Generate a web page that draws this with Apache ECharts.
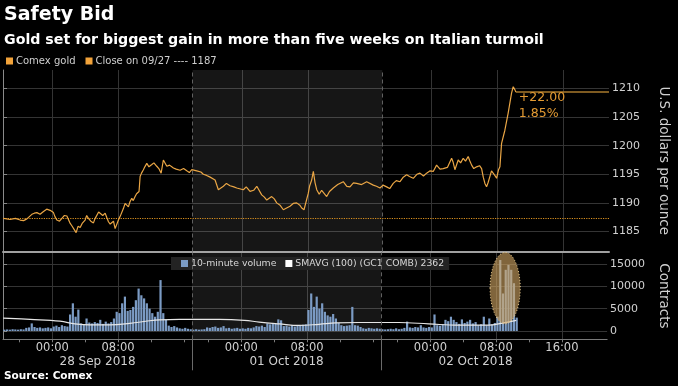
<!DOCTYPE html>
<html>
<head>
<meta charset="utf-8">
<script src="https://cdn.jsdelivr.net/npm/echarts@6/dist/echarts.min.js"></script>
<style>
html,body{margin:0;padding:0;background:#000;}
#chart{width:678px;height:386px;}
</style>
</head>
<body>
<div id="chart"></div>
<script>
// ---- Data (x positions are trading hours since 27 Sep 18:00, weekend removed) ----
const titleText = 'Safety Bid';
const subtitleText = 'Gold set for biggest gain in more than five weeks on Italian turmoil';
const sourceText = 'Source: Comex';

const priceHours = [0.06,0.87,1.5,2.08,2.5,2.90,3.2,3.50,3.8,4.11,4.5,4.91,5.3,5.72,6.12,6.3,6.53,6.85,7.14,7.45,7.75,8.15,8.35,8.55,8.7,8.87,9.1,9.36,9.6,9.96,10.15,10.36,10.65,10.97,11.15,11.38,11.6,11.78,12.1,12.39,12.6,12.79,13.0,13.20,13.4,13.60,13.8,14.00,14.2,14.41,14.6,14.81,15.0,15.21,15.4,15.62,15.8,16.02,16.2,16.42,16.5,16.63,16.8,17.03,17.2,17.44,17.7,18.05,18.3,18.65,18.9,19.18,19.45,19.87,20.2,20.67,21.0,21.48,21.9,22.29,22.6,22.90,23.50,24.0,24.30,24.7,25.12,25.72,26.12,26.73,27.1,27.54,28.0,28.35,29.15,29.5,29.96,30.4,30.78,31.38,31.7,31.99,32.59,32.9,33.20,33.6,34.00,34.4,34.81,35.2,35.62,36.0,36.23,36.51,37.03,37.2,37.44,37.64,37.85,38.05,38.35,38.65,39.26,39.6,40.06,40.6,41.27,41.7,42.08,42.5,42.90,43.5,44.11,44.91,45.3,45.72,46.1,46.53,46.9,47.33,47.7,48.15,48.55,48.96,49.3,49.76,50.2,50.57,51.0,51.38,51.8,52.18,52.59,53.0,53.39,53.9,54.41,54.6,54.81,55.0,55.21,55.5,55.82,56.1,56.42,56.6,56.84,57.1,57.44,57.8,58.05,58.25,58.45,58.65,58.85,59.05,59.25,59.45,59.65,59.87,60.1,60.27,60.47,60.87,61.27,61.68,61.88,62.08,62.20];
const priceValues = [1187.3,1187.1,1187.3,1187.0,1186.9,1187.2,1187.6,1188.0,1188.2,1188.3,1188.0,1188.5,1188.9,1188.7,1188.3,1187.6,1187.0,1186.8,1187.3,1187.8,1187.7,1186.4,1186.0,1185.7,1185.2,1184.8,1185.9,1185.7,1186.4,1187.0,1187.8,1187.3,1186.8,1186.5,1187.2,1187.5,1188.4,1188.2,1187.8,1188.2,1187.4,1186.7,1186.3,1186.1,1186.8,1185.5,1185.8,1187.0,1187.6,1187.9,1189.0,1189.9,1189.6,1189.3,1190.2,1190.8,1190.4,1191.1,1191.6,1191.7,1192.0,1194.6,1195.2,1195.8,1196.3,1196.9,1196.3,1196.7,1197.0,1196.4,1196.0,1195.2,1197.5,1196.4,1196.6,1196.1,1195.9,1195.7,1196.0,1195.6,1195.3,1195.8,1195.6,1195.4,1195.0,1194.8,1194.5,1194.0,1192.3,1192.9,1193.4,1193.0,1192.8,1192.6,1192.3,1192.8,1192.0,1192.2,1192.9,1191.4,1191.0,1190.5,1191.1,1190.7,1190.0,1189.6,1188.8,1189.1,1189.4,1189.9,1190.0,1189.6,1189.1,1188.8,1191.7,1193.0,1194.0,1195.5,1193.5,1192.3,1191.5,1192.2,1191.1,1192.0,1192.6,1193.2,1193.7,1192.9,1192.8,1193.5,1193.4,1193.2,1193.7,1193.1,1192.9,1192.6,1193.1,1192.8,1192.5,1193.4,1193.9,1193.7,1194.5,1194.9,1194.6,1194.3,1195.0,1195.2,1194.7,1195.2,1195.6,1195.5,1196.6,1195.9,1196.0,1196.2,1197.8,1197.1,1195.8,1195.5,1197.5,1197.0,1197.8,1197.3,1198.1,1197.4,1196.6,1196.0,1196.3,1196.5,1196.0,1194.5,1193.4,1192.8,1193.6,1194.6,1195.6,1195.2,1194.8,1194.3,1195.8,1196.3,1200.4,1202.7,1205.7,1209.2,1210.3,1209.8,1209.4];
const prevClose = 1187.4;
const prevCloseLabel = '09/27';

// 10-minute volume, sampled every 20 minutes from 27 Sep 18:00
const volumeStepHours = 1 / 3;
const volumeValues = [
  300,350,300,400,350,300,400,350,700,800,1700,900,700,800,600,700,800,600,1000,1200,900,1300,1100,1000,
  3700,6200,3200,4800,1700,1500,2800,1900,1700,2000,1800,2500,1600,2100,1700,2000,2800,4300,4000,6200,7700,4500,
  4700,5400,6900,9500,8000,7300,6200,5000,4000,3200,4300,11400,4000,2500,1200,900,1100,800,600,500,700,500,400,
  300,400,300,350,400,800,700,900,1000,700,800,1100,600,700,500,600,700,500,600,500,700,600,800,1100,1000,1200,900,
  1700,1500,1800,1600,2600,2400,1100,1200,1000,1300,1000,1200,1300,1400,1500,4700,8400,5400,7700,5000,6200,4300,
  3500,3200,3800,2800,1800,1300,1100,1200,1300,5400,1300,1200,900,600,500,700,600,500,600,500,
  400,350,400,500,400,600,400,500,700,2100,800,700,900,800,1300,800,700,900,800,3700,1300,1200,1500,2500,2200,3200,
  2500,2000,1600,2600,1800,2100,2500,1700,2000,1300,1500,3200,1300,2800,1500,1800,
  3200,15900,8400,13700,14800,13700,10700,3000
];
const smaHours = [0.02,3.30,6.93,8.75,10.57,12.99,15.42,17.84,19.05,21.48,26.33,29.36,31.18,33.60,36.02,38.45,40.51,43.30,48.15,51.78,55.42,59.05,60.87,62.45];
const smaValues = [2900,2600,2200,1600,1350,1350,1700,2300,2500,2600,2600,2400,2000,1600,1250,1500,1800,1900,1900,1600,1300,1300,1800,2362];

const priceTicks = [1185,1190,1195,1200,1205,1210];
const volumeTicks = [0,5000,10000,15000];
const timeLabelHours = [6,14,29,37,52,60,68];
const minorTickHours = [2,10,18,22,25,33,41,45,48,56,64];
const sessionBreaks = [23,46];
const sessionCenters = [11.5,34.5,57.5];
const sessionDates = ['28 Sep 2018','01 Oct 2018','02 Oct 2018'];
const highlightHours = [59.26,62.93];
const highlightVolumes = [1600,17600];

// ---- Derived ----
const xMin = 0, xMax = 73.5;
const priceMin = 1181.5, priceMax = 1213.23;
const volMin = -1858, volMax = 17575;
const priceData = priceHours.map((h,i)=>[h,priceValues[i]]);
const volumeData = volumeValues.map((v,i)=>[(i+0.5)*volumeStepHours, v]);
const smaData = smaHours.map((h,i)=>[h,smaValues[i]]);
const lastH = priceHours[priceHours.length-1];
const lastV = priceValues[priceValues.length-1];
const change = lastV - prevClose;
const pct = change / prevClose * 100;
const closeName = 'Close on ' + prevCloseLabel + ' ---- ' + Math.round(prevClose);
const smaName = 'SMAVG (100) (GC1 COMB) ' + smaValues[smaValues.length-1];
const volName = '10-minute volume';
const goldName = 'Comex gold';

function clockLabel(h){
  const k = Math.min(2, Math.floor(h/23));
  const c = ((18 + h - 23*k) % 24 + 24) % 24;
  return String(Math.round(c)).padStart(2,'0') + ':00';
}
function dateLabel(h){
  const i = sessionCenters.findIndex(c => Math.abs(c-h) < 0.01);
  return i >= 0 ? sessionDates[i] : '';
}
const plain = v => String(v);

const FONT = 'DejaVu Sans';
const gridColor = '#343434';
const labelColor = '#d0d0d0';
const shade = 'rgba(255,255,255,0.085)';
const sepLine = {color:'#606060', type:[4,3], width:1};

const chart = echarts.init(document.getElementById('chart'), null, {renderer:'canvas'});
const option = {
  backgroundColor: '#000',
  animation: false,
  textStyle: {fontFamily: FONT},
  title: [
    {text: titleText, left: 4, top: 6, padding:0, textStyle:{color:'#fff', fontSize:19, fontWeight:'bold', fontFamily: FONT}},
    {text: subtitleText, left: 4, top: 33, padding:0, textStyle:{color:'#fff', fontSize:14.2, fontWeight:'bold', fontFamily: FONT}},
    {text: sourceText, left: 4, top: 371, padding:0, textStyle:{color:'#fff', fontSize:10.5, fontWeight:'bold', fontFamily: FONT}}
  ],
  legend: [
    {data:[goldName, closeName], left: 6, top: 56, itemWidth:7, itemHeight:7, itemGap:10, icon:'rect', padding:0,
     textStyle:{color:'#cfcfcf', fontSize:10, fontFamily: FONT, padding:[0,0,0,-2]}},
    {data:[volName, smaName], left: 171, top: 257, itemWidth:7, itemHeight:7, itemGap:9, icon:'rect', padding:[2,5,2,10],
     backgroundColor:'#232323', textStyle:{color:'#d8d8d8', fontSize:9.3, fontFamily: FONT, padding:[0,0,0,-2]}}
  ],
  grid: [
    {left:3, right:69, top:70, height:181.5},
    {left:3, right:69, top:252.5, height:86.8}
  ],
  xAxis: [
    {gridIndex:0, type:'value', position:'bottom', min:xMin, max:xMax,
     axisLine:{show:true, onZero:false, lineStyle:{color:'#a0a0a0', width:2}},
     axisTick:{show:false, customValues: timeLabelHours}, axisLabel:{show:false},
     splitLine:{show:true, lineStyle:{color:gridColor}}},
    {gridIndex:1, type:'value', position:'bottom', offset:0, min:xMin, max:xMax,
     axisLine:{show:true, onZero:false, lineStyle:{color:'#7a7a7a'}},
     axisTick:{show:true, customValues: timeLabelHours, length:3, lineStyle:{color:'#7a7a7a'}},
     axisLabel:{show:true, customValues: timeLabelHours, formatter: clockLabel, margin:3, color:labelColor, fontSize:11.5, fontFamily: FONT},
     splitLine:{show:true, lineStyle:{color:gridColor}}},
    {gridIndex:1, type:'value', position:'bottom', offset:0, min:xMin, max:xMax,
     axisLine:{show:false, onZero:false}, splitLine:{show:false}, axisLabel:{show:false},
     axisTick:{show:true, customValues: minorTickHours, length:3, lineStyle:{color:'#7a7a7a'}}},
    {gridIndex:1, type:'value', position:'bottom', offset:0, min:xMin, max:xMax,
     axisLine:{show:false, onZero:false}, splitLine:{show:false},
     axisTick:{show:true, customValues: sessionBreaks, length:31, lineStyle:{color:'#6a6a6a'}},
     axisLabel:{show:true, customValues: sessionCenters, formatter: dateLabel, margin:17, color:labelColor, fontSize:12, fontFamily: FONT}}
  ],
  yAxis: [
    {gridIndex:0, type:'value', position:'right', min:priceMin, max:priceMax,
     axisLine:{show:true, lineStyle:{color:'#8a8a8a'}},
     axisTick:{show:true, customValues: priceTicks, length:4, lineStyle:{color:'#8a8a8a'}},
     axisLabel:{show:true, customValues: priceTicks, formatter: plain, margin:3, color:labelColor, fontSize:11, fontFamily: FONT},
     splitLine:{show:true, lineStyle:{color:gridColor}},
     name:'U.S. dollars per ounce', nameLocation:'middle', nameRotate:-90, nameGap:47,
     nameTextStyle:{color:labelColor, fontSize:13.5, fontFamily: FONT}},
    {gridIndex:1, type:'value', position:'right', min:volMin, max:volMax,
     axisLine:{show:true, lineStyle:{color:'#8a8a8a'}},
     axisTick:{show:true, customValues: volumeTicks, length:4, lineStyle:{color:'#8a8a8a'}},
     axisLabel:{show:true, customValues: volumeTicks, formatter: plain, margin:3, color:labelColor, fontSize:11, fontFamily: FONT},
     splitLine:{show:true, lineStyle:{color:gridColor}},
     name:'Contracts', nameLocation:'middle', nameRotate:-90, nameGap:47,
     nameTextStyle:{color:labelColor, fontSize:13.5, fontFamily: FONT}}
  ],
  series: [
    {name: goldName, type:'line', xAxisIndex:0, yAxisIndex:0, data: priceData, showSymbol:false, z:5,
     itemStyle:{color:'#f2a33a'}, lineStyle:{color:'#eaa645', width:1.2},
     markArea:{silent:true, itemStyle:{color:shade}, data:[[{xAxis:sessionBreaks[0]},{xAxis:sessionBreaks[1]}]]},
     markLine:{silent:true, symbol:'none', label:{show:false},
       data:[
         {xAxis:sessionBreaks[0], lineStyle:sepLine},
         {xAxis:sessionBreaks[1], lineStyle:sepLine},
         [{coord:[lastH,lastV], lineStyle:{color:'#a97a2c', width:1.5, type:'solid'}},{coord:[xMax,lastV]}]
       ]},
     markPoint:{silent:true, symbol:'circle', symbolSize:0,
       data:[{coord:[lastH,lastV]}],
       label:{show:true, position:[3,-2], align:'left', verticalAlign:'top', color:'#e39b34', fontSize:12.5, lineHeight:16, fontFamily: FONT,
         formatter: (change>=0?'+':'') + change.toFixed(2) + '\n' + pct.toFixed(2) + '%'}}
    },
    {name: closeName, type:'line', xAxisIndex:0, yAxisIndex:0, data:[], z:4,
     itemStyle:{color:'#f2a33a'},
     markLine:{silent:true, symbol:'none', label:{show:false},
       lineStyle:{color:'#d9901f', type:'dotted', width:1.2}, data:[{yAxis: prevClose}]}},
    {name: volName, type:'bar', xAxisIndex:1, yAxisIndex:1, data: volumeData, barWidth:2.2, z:3,
     itemStyle:{color:'#7b9bc4'},
     markArea:{silent:true, itemStyle:{color:shade}, data:[[{xAxis:sessionBreaks[0]},{xAxis:sessionBreaks[1]}]]},
     markLine:{silent:true, symbol:'none', label:{show:false},
       data:[{xAxis:sessionBreaks[0], lineStyle:sepLine},{xAxis:sessionBreaks[1], lineStyle:sepLine}]}},
    {name: smaName, type:'line', xAxisIndex:1, yAxisIndex:1, data: smaData, showSymbol:false, smooth:0.4, z:4,
     itemStyle:{color:'#ffffff'}, lineStyle:{color:'#e6e6e6', width:1.2}}
  ]
};
chart.setOption(option);

// Highlight ellipse around the volume spike, positioned through the axes
const p1 = chart.convertToPixel({xAxisIndex:1, yAxisIndex:1}, [highlightHours[0], highlightVolumes[0]]);
const p2 = chart.convertToPixel({xAxisIndex:1, yAxisIndex:1}, [highlightHours[1], highlightVolumes[1]]);
chart.setOption({
  graphic: [{
    type:'ellipse', z:50, silent:true,
    shape:{cx:(p1[0]+p2[0])/2, cy:(p1[1]+p2[1])/2, rx:Math.abs(p2[0]-p1[0])/2, ry:Math.abs(p2[1]-p1[1])/2},
    style:{fill:'rgba(214,168,100,0.6)', stroke:'#e9cc90', lineWidth:1, lineDash:[1,2]}
  }]
});
</script>
</body>
</html>
